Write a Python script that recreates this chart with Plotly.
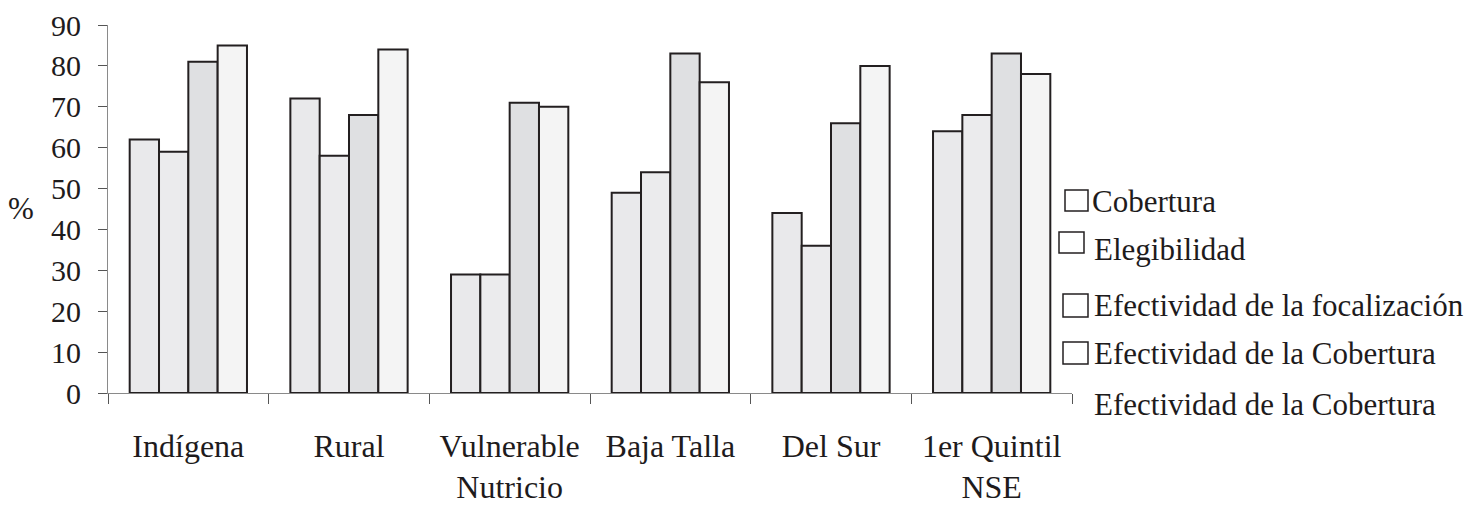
import plotly.graph_objects as go

categories = ["Indígena", "Rural", "Vulnerable<br>Nutricio", "Baja Talla", "Del Sur", "1er Quintil<br>NSE"]
series_names = ["Cobertura", "Elegibilidad", "Efectividad de la focalización", "Efectividad de la Cobertura"]
cobertura = [62, 72, 29, 49, 44, 64]
elegibilidad = [59, 58, 29, 54, 36, 68]
efect_focalizacion = [81, 68, 71, 83, 66, 83]
efect_cobertura = [85, 84, 70, 76, 80, 78]
y_ticks = [0, 10, 20, 30, 40, 50, 60, 70, 80, 90]
legend_labels = ["Cobertura", "Elegibilidad", "Efectividad de la focalización",
                 "Efectividad de la Cobertura", "Efectividad de la Cobertura"]

colors = ["#e9e9eb", "#ebebed", "#dfe0e2", "#f4f4f4"]
FONT = "Liberation Serif"
TXT = "#1e1b1c"
OFF = 8  # default page body margin
W, H = 1482 - OFF, 507 - OFF
# plot area in screen pixels
L, R, T, B = 108, 1072, 25, 393

fig = go.Figure()
for name, vals, c in zip(series_names,
                         [cobertura, elegibilidad, efect_focalizacion, efect_cobertura],
                         colors):
    fig.add_trace(go.Bar(x=categories, y=vals, name=name,
                         marker=dict(color=c, line=dict(color="#231f20", width=2))))

def px(x):
    return (x - L) / (R - L)

def py(y):
    return (B - y) / (B - T)

# Legend drawn manually (irregular placement as in the reference)
legend_text_y = [201, 249, 305, 353, 404]
legend_text_x = [1090, 1092, 1092, 1092, 1092]
legend_boxes = [(1065, 190, 1088, 211), (1059, 232, 1084, 253),
                (1063, 294, 1088, 317), (1063, 342, 1088, 364)]
for txt, tx, ty in zip(legend_labels, legend_text_x, legend_text_y):
    fig.add_annotation(text=txt, xref="paper", yref="paper", x=px(tx), y=py(ty),
                       xanchor="left", yanchor="middle", showarrow=False,
                       font=dict(family=FONT, size=31, color=TXT))
for (x0, y0, x1, y1) in legend_boxes:
    fig.add_shape(type="rect", xref="paper", yref="paper",
                  x0=px(x0), x1=px(x1), y0=py(y1), y1=py(y0),
                  line=dict(color="#231f20", width=1.5), fillcolor="white")

fig.add_annotation(text="%", xref="paper", yref="paper", x=px(21), y=py(208),
                   xanchor="center", yanchor="middle", showarrow=False,
                   font=dict(family=FONT, size=31, color=TXT))

fig.update_layout(
    width=W, height=H,
    margin=dict(l=L - OFF, r=W - (R - OFF), t=T - OFF, b=H - (B - OFF), pad=0,
                autoexpand=False),
    paper_bgcolor="white", plot_bgcolor="white",
    barmode="group", bargap=0.27, bargroupgap=0,
    showlegend=False,
    font=dict(family=FONT, size=30, color=TXT),
)
fig.update_xaxes(showline=True, linecolor="#8a8a8a", linewidth=1.2,
                 ticks="outside", tickson="boundaries", ticklen=10,
                 tickcolor="#555", tickwidth=1.2, showgrid=False, automargin=False,
                 ticklabelstandoff=24, tickfont=dict(family=FONT, size=32, color=TXT))
fig.update_yaxes(range=[0, 90], tickvals=y_ticks, showline=True,
                 linecolor="#8a8a8a", linewidth=1.2, ticks="outside", ticklen=9,
                 tickcolor="#555", tickwidth=1.2, showgrid=False, zeroline=False,
                 automargin=False,
                 ticklabelstandoff=11, tickfont=dict(family=FONT, size=30, color=TXT))

fig.write_html("out.html")
